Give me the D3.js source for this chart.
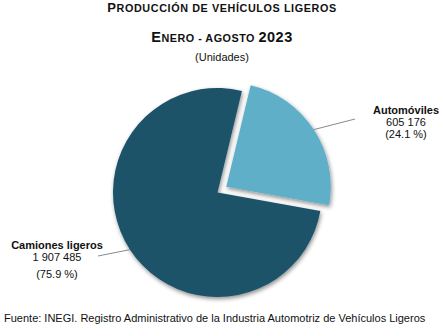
<!DOCTYPE html>
<html>
<head>
<meta charset="utf-8">
<script src="https://cdn.jsdelivr.net/npm/d3@7"></script>
<style>
  html, body { margin: 0; padding: 0; background: #fff; }
  svg { display: block; font-family: "Liberation Sans", Arial, sans-serif; }
</style>
</head>
<body>
<svg id="chart" width="444" height="336"></svg>
<script>
// Light-vehicle production, January–August 2023 (units)
const categories = ["Automóviles", "Camiones ligeros"];
const values = [605176, 1907485];
const valueLabels = ["605 176", "1 907 485"];
const shareLabels = ["(24.1 %)", "(75.9 %)"];
const colors = ["#60afc8", "#1b5268"];

const svg = d3.select("#chart");
const W = 444;

// Drop shadow under the pie slices
const defs = svg.append("defs");
const f = defs.append("filter").attr("id", "shadow")
  .attr("x", "-20%").attr("y", "-20%").attr("width", "140%").attr("height", "140%");
f.append("feDropShadow").attr("dx", 1).attr("dy", 2).attr("stdDeviation", 2.2)
  .attr("flood-color", "#000").attr("flood-opacity", 0.45);

// Titles (small caps drawn with smaller tspans)
function smallCaps(y, big, small, spacing, parts) {
  const t = svg.append("text").attr("x", W / 2).attr("y", y)
    .attr("text-anchor", "middle").attr("font-weight", "bold").attr("fill", "#111")
    .attr("letter-spacing", spacing);
  parts.forEach(([s, isBig]) => {
    t.append("tspan").attr("font-size", isBig ? big : small).text(s);
  });
  return t;
}
smallCaps(12, 13, 10.8, 0.6, [["P", true], ["RODUCCIÓN DE VEHÍCULOS LIGEROS", false]]);
smallCaps(42, 14.5, 10.8, 0.5, [["E", true], ["NERO - AGOSTO ", false], ["2023", true]]);
svg.append("text").attr("x", W / 2).attr("y", 61).attr("text-anchor", "middle")
  .attr("font-size", 11).attr("fill", "#111").text("(Unidades)");

// Pie
const cx = 217.5, cy = 192.5, r = 104.5, explode = 10.5;
const startDeg = 13.5;
const pie = d3.pie().sort(null).value(d => d)
  .startAngle(startDeg * Math.PI / 180)
  .endAngle(startDeg * Math.PI / 180 + 2 * Math.PI);
const arcs = pie(values);
const arc = d3.arc().innerRadius(0).outerRadius(r);

const g = svg.append("g").attr("transform", `translate(${cx},${cy})`);
const offset = (d, i) => {
  const k = i === 0 ? explode : 0;
  const a = (d.startAngle + d.endAngle) / 2;
  return [Math.sin(a) * k, -Math.cos(a) * k];
};

g.selectAll("path.slice").data(arcs).join("path")
  .attr("class", "slice")
  .attr("d", arc)
  .attr("fill", (d, i) => colors[i])
  .attr("filter", "url(#shadow)")
  .attr("transform", (d, i) => `translate(${offset(d, i)})`);

// Leader lines and labels
const labelPos = [
  { end: [355, 119], x: 406, y: 114, anchor: "middle" },
  { end: [98, 256], x: 57, y: 249, anchor: "middle" }
];
arcs.forEach((d, i) => {
  const a = (d.startAngle + d.endAngle) / 2;
  const [ox, oy] = offset(d, i);
  const sx = cx + ox + Math.sin(a) * r;
  const sy = cy + oy - Math.cos(a) * r;
  const lp = labelPos[i];
  svg.append("line").attr("x1", sx).attr("y1", sy)
    .attr("x2", lp.end[0]).attr("y2", lp.end[1])
    .attr("stroke", "#8a8a8a").attr("stroke-width", 1);
  const t = svg.append("text").attr("text-anchor", lp.anchor).attr("font-size", 11).attr("fill", "#111");
  t.append("tspan").attr("x", lp.x).attr("y", lp.y).attr("font-weight", "bold").text(categories[i]);
  t.append("tspan").attr("x", lp.x).attr("y", lp.y + 12).text(valueLabels[i]);
  t.append("tspan").attr("x", lp.x).attr("y", lp.y + (i === 0 ? 24 : 29)).text(shareLabels[i]);
});

// Source note
svg.append("text").attr("x", 4).attr("y", 322).attr("font-size", 11).attr("fill", "#111")
  .text("Fuente: INEGI. Registro Administrativo de la Industria Automotriz de Vehículos Ligeros");
</script>
</body>
</html>
